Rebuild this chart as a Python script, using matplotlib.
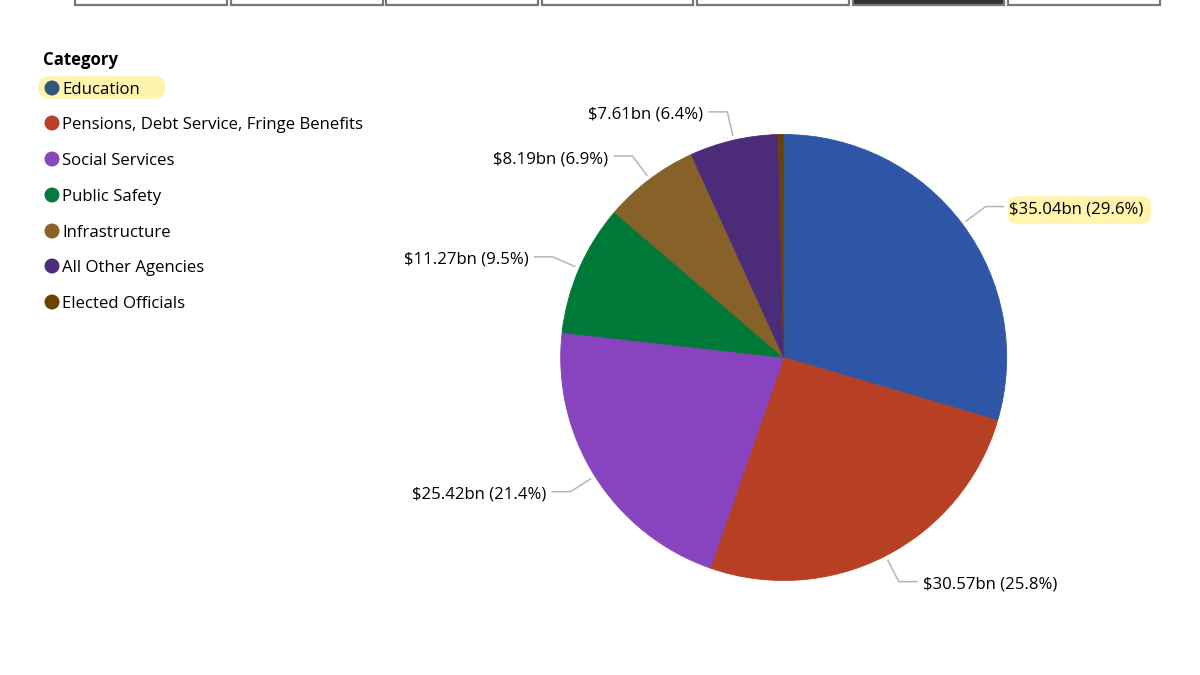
import numpy as np
import matplotlib
matplotlib.use("Agg")
import matplotlib.pyplot as plt
from matplotlib.patches import Circle, FancyBboxPatch, Rectangle

plt.rcParams["font.family"] = ["Open Sans", "DejaVu Sans"]

# data ($bn)
categories = ["Education", "Pensions, Debt Service, Fringe Benefits", "Social Services",
              "Public Safety", "Infrastructure", "All Other Agencies", "Elected Officials"]
values = [35.04, 30.57, 25.42, 11.27, 8.19, 7.61, 0.45]
pct_labels = ["29.6%", "25.8%", "21.4%", "9.5%", "6.9%", "6.4%", None]
pie_colors = ["#2F56A6", "#B73F23", "#8844BE", "#007837", "#866128", "#4C2C78", "#6B4300"]
legend_colors = ["#31587F", "#BC4028", "#8A46BF", "#077A3A", "#8A6228", "#4D2D7A", "#6B4200"]
legend_y = [88, 123, 159, 195, 231, 266, 302]
tab_edges = [(75, 227), (231, 383), (386, 538), (542, 693), (697, 849), (853, 1004), (1008, 1160)]

W, H = 1200, 675
CX, CY, R = 783.7, 357.5, 223
HILITE = "#FFF4AE"
FS = 12.1

fig = plt.figure(figsize=(W / 100, H / 100), dpi=100, facecolor="white")

# pie
ax = fig.add_axes([(CX - R) / W, (H - CY - R) / H, 2 * R / W, 2 * R / H])
wedges, _ = ax.pie(values, colors=pie_colors, startangle=90, counterclock=False, radius=1)
for wedge, col in zip(wedges, pie_colors):
    # same colour edge hides the seams between slices
    wedge.set_edgecolor(col)
    wedge.set_linewidth(0.6)
ax.set_xlim(-1, 1)
ax.set_ylim(-1, 1)

# everything else in pixel coords
over = fig.add_axes([0, 0, 1, 1], facecolor="none")
over.set_xlim(0, W)
over.set_ylim(H, 0)
over.axis("off")

# tabs cut off at the top
for i, (x0, x1) in enumerate(tab_edges):
    dark = i == 5
    over.add_patch(Rectangle((x0, -10), x1 - x0, 15, fc="#333333" if dark else "white",
                             ec="#777777", lw=1.6))

# legend
over.text(43, 60, "Category", fontsize=FS, fontweight="bold", va="center", color="black")
over.add_patch(FancyBboxPatch((41, 79), 122, 17, boxstyle="round,pad=0,rounding_size=8",
                              mutation_aspect=1, fc=HILITE, ec=HILITE, lw=4))
for name, col, y in zip(categories, legend_colors, legend_y):
    over.add_patch(Circle((52, y), 7.5, fc=col, ec="none"))
    over.text(62, y + 2, name, fontsize=FS, va="center", color="black")

# leader lines and data labels
total = sum(values)
cum = 0
for i, (v, pct) in enumerate(zip(values, pct_labels)):
    mid = (cum + v / 2) / total * 2 * np.pi
    cum += v
    if pct is None:
        continue
    sx, sy = np.sin(mid), -np.cos(mid)
    side = 1 if sx > 0 else -1
    x0, y0 = CX + (R + 5) * sx, CY + (R + 5) * sy
    x1, y1 = CX + (R + 29) * sx, CY + (R + 29) * sy
    x2 = x1 + side * 18
    over.plot([x0, x1, x2], [y0, y1, y1], color="#B5B5B5", lw=1.1, solid_joinstyle="miter")
    label = f"\\${v:.2f}bn ({pct})"
    if i == 0:
        over.add_patch(FancyBboxPatch((1011, 199), 137, 22, boxstyle="round,pad=0,rounding_size=5",
                                      fc=HILITE, ec=HILITE, lw=4))
    over.text(x2 + side * 6, y1 + 3, label, fontsize=FS, va="center",
              ha="left" if side > 0 else "right", color="black")

fig.savefig("out.png", dpi=100)
